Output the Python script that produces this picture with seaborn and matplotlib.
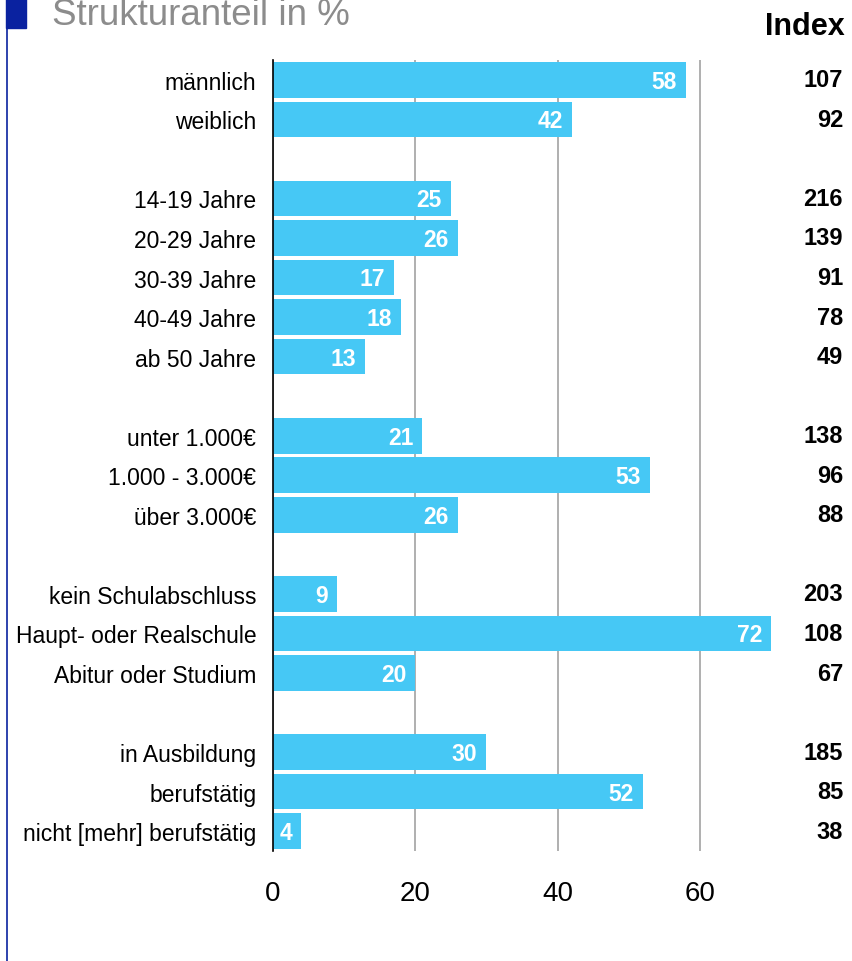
import numpy as np
import pandas as pd
import matplotlib
matplotlib.use("Agg")
import matplotlib.pyplot as plt
import seaborn as sns
from matplotlib.patches import Rectangle
from matplotlib.lines import Line2D
from matplotlib.transforms import blended_transform_factory

# data
groups = [
    ["männlich", "weiblich"],
    ["14-19 Jahre", "20-29 Jahre", "30-39 Jahre", "40-49 Jahre", "ab 50 Jahre"],
    ["unter 1.000€", "1.000 - 3.000€", "über 3.000€"],
    ["kein Schulabschluss", "Haupt- oder Realschule", "Abitur oder Studium"],
    ["in Ausbildung", "berufstätig", "nicht [mehr] berufstätig"],
]
shares = [58, 42, 25, 26, 17, 18, 13, 21, 53, 26, 9, 72, 20, 30, 52, 4]
index_values = [107, 92, 216, 139, 91, 78, 49, 138, 96, 88, 203, 108, 67, 185, 85, 38]
x_ticks = [0, 20, 40, 60]

BAR = "#46C8F5"
DARKBLUE = "#0A22A0"
XMAX = 70

# row positions with one empty row between groups
labels, positions = [], []
row = 0
for g in groups:
    for name in g:
        labels.append(name)
        positions.append(row)
        row += 1
    row += 1

df = pd.DataFrame({"pos": positions, "share": shares, "label": labels})

sns.set_style("white")
plt.rcParams["font.family"] = ["Liberation Sans", "DejaVu Sans"]

W, H = 852, 962
fig = plt.figure(figsize=(W / 100, H / 100), dpi=100)
ax = fig.add_axes([273 / W, 1 - 852 / H, (771 - 273) / W, (852 - 61) / H])

sns.barplot(data=df, x="share", y="pos", orient="y", native_scale=True,
            color=BAR, saturation=1, width=0.9, errorbar=None, ax=ax,
            linewidth=0, zorder=2)

ax.set_xlim(0, XMAX)
ax.set_ylim(positions[-1] + 0.5, -0.5)
ax.set_xlabel("")
ax.set_ylabel("")
ax.set_yticks(positions, labels)
ax.set_xticks(x_ticks, [str(t) for t in x_ticks])
ax.tick_params(axis="y", length=0, pad=12, labelsize=16.5, colors="black")
ax.tick_params(axis="x", length=0, pad=21, labelsize=20, colors="black")

for s in ["top", "right", "bottom"]:
    ax.spines[s].set_visible(False)
ax.spines["left"].set_color("black")
ax.spines["left"].set_linewidth(1.2)
ax.spines["left"].set_zorder(3)

ax.set_axisbelow(True)
ax.xaxis.grid(True, color="#9A9A9A", linewidth=1.1)
ax.yaxis.grid(False)

# white value labels inside the bars
for p, v in zip(positions, shares):
    ax.annotate(str(v), xy=(min(v, XMAX), p), xytext=(-6.5, -1),
                textcoords="offset points", ha="right", va="center",
                color="white", fontweight="bold", fontsize=16.5,
                annotation_clip=False, zorder=4)

# index column on the right
trans = blended_transform_factory(fig.transFigure, ax.transData)
for p, idx in zip(positions, index_values):
    ax.text(843 / W, p, str(idx), transform=trans, ha="right", va="center",
            fontweight="bold", fontsize=17, color="black", clip_on=False)

fig.text(52 / W, 1 - 25 / H, "Strukturanteil in %", fontsize=26.5,
         color="#8C8C8C", va="baseline", ha="left")
fig.text(845 / W, 1 - 35 / H, "Index", fontsize=22, fontweight="bold",
         color="black", va="baseline", ha="right")

fig.patches.append(Rectangle((6 / W, 1 - 29 / H), 20 / W, 29 / H,
                             transform=fig.transFigure, color=DARKBLUE))
fig.lines.append(Line2D([6.8 / W, 6.8 / W], [0, 1 - 29 / H],
                        transform=fig.transFigure, color=DARKBLUE, linewidth=1.2))

fig.savefig("out.png", dpi=100)
